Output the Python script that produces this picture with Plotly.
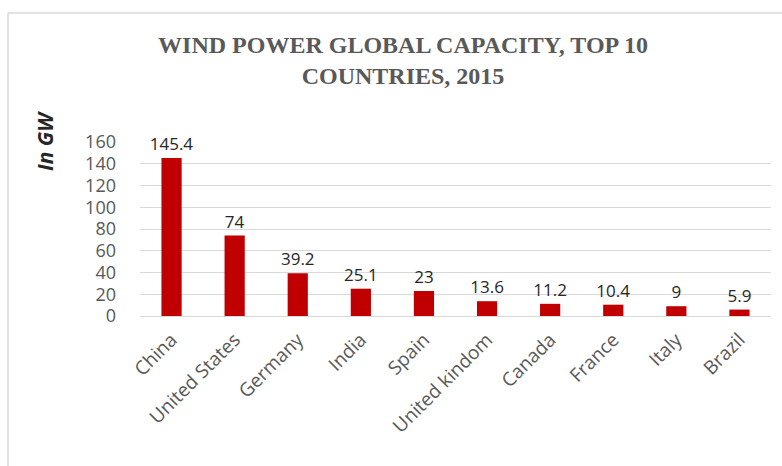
import plotly.graph_objects as go

countries = ["China", "United States", "Germany", "India", "Spain",
             "United kindom", "Canada", "France", "Italy", "Brazil"]
capacity = [145.4, 74, 39.2, 25.1, 23, 13.6, 11.2, 10.4, 9, 5.9]
labels = ["145.4", "74", "39.2", "25.1", "23", "13.6", "11.2", "10.4", "9", "5.9"]
y_ticks = [0, 20, 40, 60, 80, 100, 120, 140, 160]

L, R, T, B = 140, 11, 142, 150
W, H = 782, 466
pw, ph = W - L - R, H - T - B

def px(x):
    return (x - L) / pw

def py(y):
    return (H - B - y) / ph

fig = go.Figure(go.Bar(
    x=countries, y=capacity, text=labels, textposition="outside",
    constraintext="none",
    textfont=dict(family="Open Sans, sans-serif", size=17, color="#262626"),
    marker=dict(color="#c00000", line=dict(width=0)),
    cliponaxis=False,
))

fig.update_layout(
    width=W, height=H,
    margin=dict(l=L, r=R, t=T, b=B),
    paper_bgcolor="white", plot_bgcolor="white",
    bargap=0.68,
    showlegend=False,
    uniformtext=dict(minsize=17, mode="show"),
    title=dict(
        text="<b>WIND POWER GLOBAL CAPACITY, TOP 10<br>COUNTRIES, 2015</b>",
        x=px(403), xanchor="center", xref="paper",
        y=1 - 53 / H, yanchor="middle",
        font=dict(family="Liberation Serif, serif", size=24, color="#595959"),
    ),
    xaxis=dict(
        tickangle=-45,
        tickfont=dict(family="Open Sans, sans-serif", size=19, color="#595959"),
        showgrid=False, showline=False, ticks="", ticklabelstandoff=8,
    ),
    yaxis=dict(
        range=[0, 160], tickvals=y_ticks,
        tickfont=dict(family="Open Sans, sans-serif", size=18, color="#595959"),
        showgrid=True, gridcolor="#d9d9d9", gridwidth=1,
        zeroline=True, zerolinecolor="#d9d9d9", zerolinewidth=1,
        showline=False, ticks="", ticklabelstandoff=23,
    ),
    annotations=[dict(
        text="<b><i>In GW</i></b>", textangle=-90,
        xref="paper", yref="paper", x=px(45), y=py(141),
        xanchor="center", yanchor="middle", showarrow=False,
        font=dict(family="Open Sans, sans-serif", size=21, color="#262626"),
    )],
    shapes=[
        dict(type="line", xref="paper", yref="paper",
             x0=px(8), x1=px(790), y0=py(13), y1=py(13),
             line=dict(color="#d9d9d9", width=1.5)),
        dict(type="line", xref="paper", yref="paper",
             x0=px(8), x1=px(8), y0=py(13), y1=py(480),
             line=dict(color="#d9d9d9", width=1.5)),
    ],
)

fig.write_html("out.html")
